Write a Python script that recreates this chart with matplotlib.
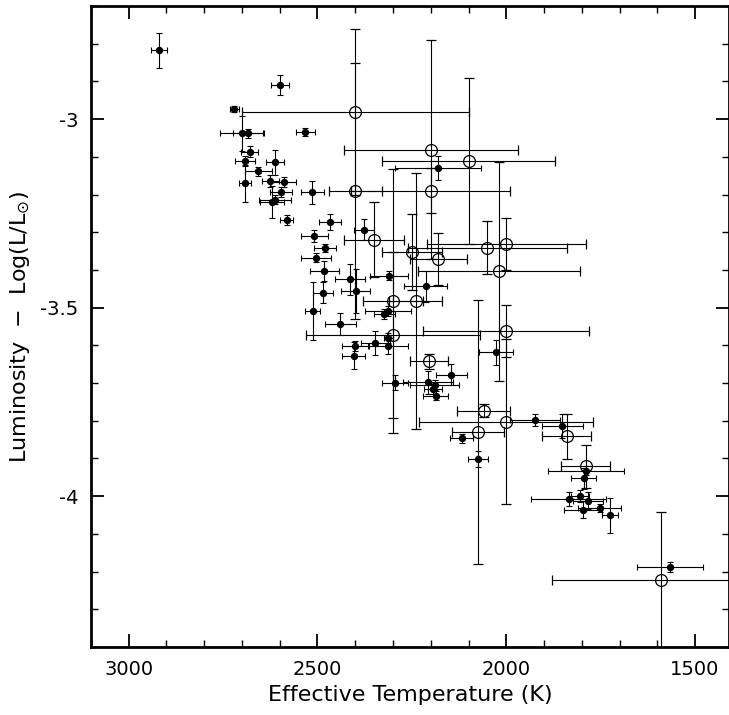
import numpy as np
import matplotlib
matplotlib.use("Agg")
import matplotlib.pyplot as plt
from matplotlib.ticker import MultipleLocator, FuncFormatter

# filled points: temperature (K), log luminosity and their errors
teff = [2920, 2600, 2720, 2700, 2684, 2532, 2680, 2692, 2613, 2657,
        2692, 2625, 2589, 2596, 2514, 2621, 2612, 2582, 2467, 2377,
        2508, 2479, 2504, 2482, 2413, 2399, 2486, 2513, 2440, 2311,
        2213, 2180, 2323, 2314, 2400, 2347, 2312, 2314, 2404, 2294,
        2208, 2146, 2190, 2195, 2187, 2027, 1924, 1852, 2118, 2075,
        1788, 1795, 1835, 1804, 1784, 1797, 1752, 1725, 1567]
lum = [-2.818, -2.910, -2.973, -3.038, -3.038, -3.034, -3.086, -3.110, -3.114, -3.138,
       -3.170, -3.165, -3.167, -3.194, -3.194, -3.219, -3.214, -3.268, -3.273, -3.293,
       -3.310, -3.341, -3.367, -3.402, -3.425, -3.455, -3.460, -3.508, -3.544, -3.415,
       -3.443, -3.130, -3.517, -3.508, -3.601, -3.594, -3.581, -3.603, -3.627, -3.699,
       -3.698, -3.678, -3.705, -3.715, -3.734, -3.618, -3.798, -3.814, -3.847, -3.901,
       -3.932, -3.952, -4.007, -3.999, -4.012, -4.036, -4.032, -4.051, -4.188]
teff_err = [22, 24, 12, 58, 39, 26, 23, 27, 23, 36,
            16, 23, 33, 29, 31, 32, 42, 18, 29, 26,
            35, 29, 40, 38, 40, 38, 27, 19, 41, 50,
            57, 114, 28, 61, 36, 38, 13, 53, 31, 35,
            66, 41, 66, 24, 34, 45, 66, 54, 31, 27,
            101, 33, 100, 24, 40, 51, 57, 21, 88]
lum_err = [0.047, 0.027, 0.008, 0.046, 0.012, 0.011, 0.015, 0.013, 0.033, 0.012,
           0.049, 0.016, 0.014, 0.013, 0.030, 0.042, 0.012, 0.013, 0.022, 0.028,
           0.017, 0.011, 0.013, 0.026, 0.042, 0.058, 0.027, 0.077, 0.029, 0.011,
           0.041, 0.032, 0.013, 0.013, 0.013, 0.031, 0.013, 0.020, 0.037, 0.020,
           0.031, 0.028, 0.013, 0.013, 0.012, 0.033, 0.016, 0.031, 0.011, 0.021,
           0.013, 0.028, 0.018, 0.016, 0.022, 0.023, 0.011, 0.047, 0.013]

# open circles
teff_o = [2400, 2200, 2100, 2400, 2200, 2350, 2250, 2050, 2000, 2180, 2020,
          2300, 2240, 2300, 2000, 2205, 2060, 2000, 2075, 1840, 1790, 1590]
lum_o = [-2.981, -3.081, -3.111, -3.190, -3.190, -3.320, -3.352, -3.341, -3.331, -3.371, -3.404,
         -3.482, -3.482, -3.572, -3.562, -3.642, -3.773, -3.802, -3.831, -3.841, -3.921, -4.222]
teff_o_err = [300, 230, 230, 70, 210, 80, 80, 210, 210, 75, 215,
              80, 70, 230, 220, 50, 70, 230, 70, 65, 65, 290]
lum_o_err = [0.22, 0.29, 0.22, 0.34, 0.06, 0.10, 0.10, 0.07, 0.07, 0.07, 0.29,
             0.35, 0.34, 0.22, 0.07, 0.02, 0.018, 0.22, 0.35, 0.06, 0.056, 0.18]

fig = plt.figure(figsize=(7.29, 7.15), dpi=100)
ax = fig.add_axes([0.1248, 0.0951, 0.8752, 0.8965])

# open circles with big error bars
ax.errorbar(teff_o, lum_o, xerr=teff_o_err, yerr=lum_o_err, fmt='o', ms=8.5,
            mfc='none', mec='k', mew=0.9, ecolor='k', elinewidth=0.8,
            capsize=3.6, capthick=0.8)
# filled points
ax.errorbar(teff, lum, xerr=teff_err, yerr=lum_err, fmt='o', ms=4.3,
            color='k', ecolor='k', elinewidth=0.8, capsize=2.4, capthick=0.8)

ax.set_xlim(3100, 1410)
ax.set_ylim(-4.4, -2.7)

ax.xaxis.set_major_locator(MultipleLocator(500))
ax.xaxis.set_minor_locator(MultipleLocator(100))
ax.yaxis.set_major_locator(MultipleLocator(0.5))
ax.yaxis.set_minor_locator(MultipleLocator(0.1))
ax.yaxis.set_major_formatter(FuncFormatter(lambda v, p: '%g' % v))
ax.tick_params(which='both', direction='in', top=True, right=True)
ax.tick_params(which='major', length=9.5, width=1.3, labelsize=14, pad=9)
ax.tick_params(which='minor', length=5, width=1.0)
for sp in ax.spines.values():
    sp.set_linewidth(2)

ax.set_xlabel('Effective Temperature (K)', fontsize=16, labelpad=5)
ax.set_ylabel(r'Luminosity  $-$  Log(L/L$_{\odot}$)', fontsize=16, labelpad=6)

fig.savefig('out.png', dpi=100)
